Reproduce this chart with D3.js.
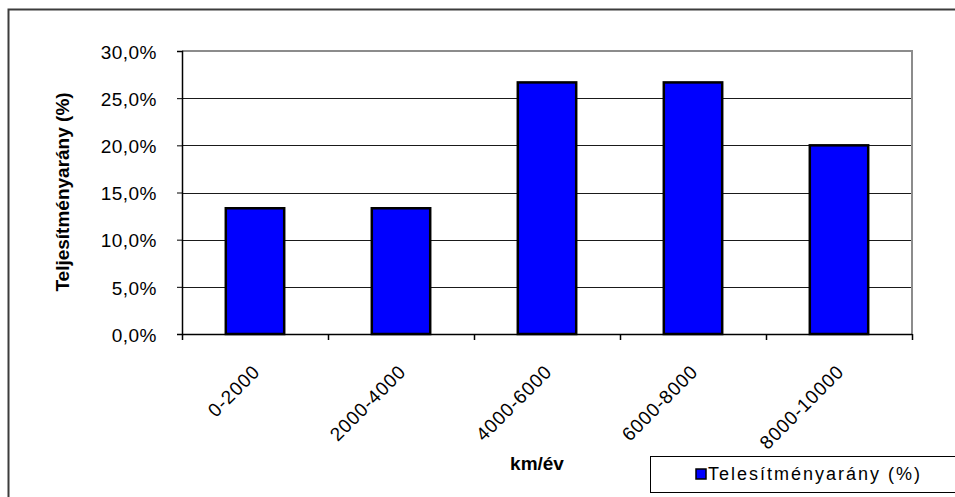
<!DOCTYPE html>
<html>
<head>
<meta charset="utf-8">
<script src="https://cdn.jsdelivr.net/npm/d3@7"></script>
<style>
  html, body { margin: 0; padding: 0; background: #fff; }
  svg { display: block; }
  text { font-family: "Liberation Sans", Arial, sans-serif; fill: #000; }
</style>
</head>
<body>
<svg id="chart" width="955" height="497"></svg>
<script>
// Distance bands (km per year) and the share of performance in each
const categories = ["0-2000", "2000-4000", "4000-6000", "6000-8000", "8000-10000"];
const shares = [0.1333, 0.1333, 0.2667, 0.2667, 0.2000];
const yTicks = [0, 0.05, 0.10, 0.15, 0.20, 0.25, 0.30];
const seriesName = "Telesítményarány (%)";
const xTitle = "km/év";
const yTitle = "Teljesítményarány (%)";

const svg = d3.select("#chart");
const plot = { left: 182, top: 51, right: 912, bottom: 334 };

// Outer chart frame (left and top edges visible)
svg.append("path")
  .attr("d", `M8.5,497 V9.5 H955`)
  .attr("fill", "none").attr("stroke", "#3c3c3c").attr("stroke-width", 2);

const x = d3.scaleBand().domain(categories)
  .range([plot.left, plot.right]).paddingInner(0.6).paddingOuter(0.3);
const xBand = d3.scaleBand().domain(categories).range([plot.left, plot.right]);
const y = d3.scaleLinear().domain([0, 0.30]).range([plot.bottom, plot.top]);

const pct = d => d3.format(".1f")(d * 100).replace(".", ",") + "%";

// Horizontal gridlines
svg.append("g").selectAll("line").data(yTicks.filter(t => t > 0 && t < 0.30)).join("line")
  .attr("x1", plot.left).attr("x2", plot.right)
  .attr("y1", d => Math.round(y(d)) + 0.5).attr("y2", d => Math.round(y(d)) + 0.5)
  .attr("stroke", "#1a1a1a").attr("stroke-width", 1);

// Plot area frame: gray top and right edges
svg.append("path")
  .attr("d", `M${plot.left},${plot.top} H${plot.right} V${plot.bottom}`)
  .attr("fill", "none").attr("stroke", "#8c8c8c").attr("stroke-width", 2);

// Bars
svg.append("g").selectAll("rect").data(categories).join("rect")
  .attr("x", d => x(d)).attr("width", x.bandwidth())
  .attr("y", (d, i) => y(shares[i]))
  .attr("height", (d, i) => y(0) - y(shares[i]))
  .attr("fill", "#0000ff").attr("stroke", "#000").attr("stroke-width", 2.5);

// Y axis
const yAxis = svg.append("g").attr("transform", `translate(${plot.left},0)`)
  .call(d3.axisLeft(y).tickValues(yTicks).tickFormat(pct).tickSize(5).tickPadding(20));
yAxis.select(".domain").attr("stroke", "#000").attr("stroke-width", 1.5);
yAxis.selectAll(".tick line").attr("stroke", "#000");
yAxis.selectAll(".tick text")
  .attr("font-size", 19).attr("letter-spacing", 0.5).attr("fill", "#222")
  .attr("dy", "0.38em")
  .style("font-family", "'Liberation Sans', Arial, sans-serif");

// X axis with ticks on category boundaries
const xAxisG = svg.append("g").attr("transform", `translate(0,${plot.bottom})`);
xAxisG.append("line")
  .attr("x1", plot.left).attr("x2", plot.right).attr("y1", 0.5).attr("y2", 0.5)
  .attr("stroke", "#000").attr("stroke-width", 1.5);
const bounds = categories.map(c => xBand(c)).concat([plot.right]);
xAxisG.selectAll("line.tk").data(bounds).join("line").attr("class", "tk")
  .attr("x1", d => Math.round(d) + 0.5).attr("x2", d => Math.round(d) + 0.5)
  .attr("y1", 0).attr("y2", 6).attr("stroke", "#000").attr("stroke-width", 1.5);
xAxisG.selectAll("text").data(categories).join("text")
  .attr("text-anchor", "end")
  .attr("font-size", 19).attr("letter-spacing", 0.8).attr("fill", "#222")
  .attr("transform", d => `translate(${xBand(d) + xBand.bandwidth() / 2 + 6},${39}) rotate(-45)`)
  .text(d => d);

// Axis titles
svg.append("text")
  .attr("x", 537).attr("y", 470)
  .attr("text-anchor", "middle").attr("font-size", 19).attr("font-weight", "bold")
  .text(xTitle);
svg.append("text")
  .attr("transform", `translate(69,192) rotate(-90)`)
  .attr("text-anchor", "middle").attr("font-size", 19).attr("font-weight", "bold")
  .text(yTitle);

// Legend
const lg = svg.append("g");
lg.append("rect").attr("x", 650.5).attr("y", 456.5).attr("width", 320).attr("height", 36)
  .attr("fill", "#fff").attr("stroke", "#000").attr("stroke-width", 1);
lg.append("rect").attr("x", 696).attr("y", 469).attr("width", 10).attr("height", 10)
  .attr("fill", "#0000ff").attr("stroke", "#000").attr("stroke-width", 1.5);
lg.append("text").attr("x", 708).attr("y", 480)
  .attr("font-size", 18).attr("letter-spacing", 2)
  .text(seriesName);
</script>
</body>
</html>
